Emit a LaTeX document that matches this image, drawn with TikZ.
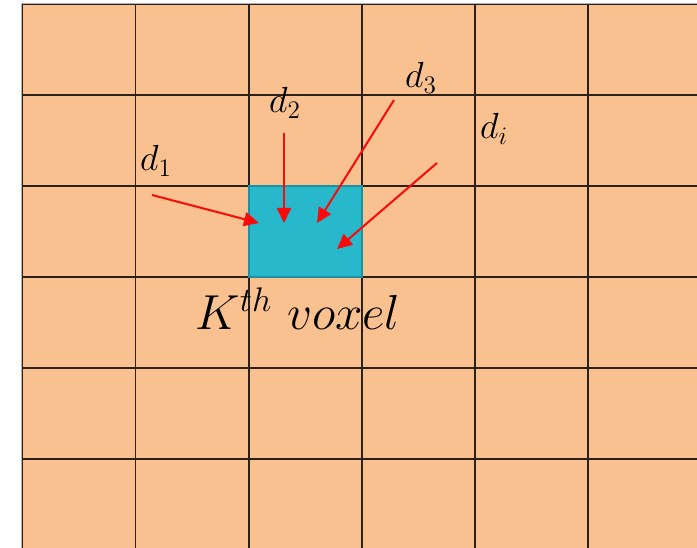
\documentclass[tikz,border=0pt]{standalone}
\usepackage{graphicx}
\usetikzlibrary{arrows.meta}
\definecolor{cellfill}{RGB}{249,192,144}
\definecolor{gridline}{RGB}{45,32,24}
\definecolor{voxfill}{RGB}{40,184,204}
\definecolor{voxedge}{RGB}{30,145,160}
\definecolor{arrowred}{RGB}{250,10,10}
\newcommand{\dtext}[1]{\scalebox{1.75}{\huge$#1$}}
\tikzset{
  ray/.style={draw=arrowred, line width=2pt, -{Triangle[length=15pt,width=14pt]}},
  dlabel/.style={inner sep=0pt},
  voxbox/.style={draw=voxedge, fill=voxfill, line width=2pt, minimum width=113pt, minimum height=91pt, inner sep=0pt},
}
\begin{document}
\begin{tikzpicture}[x=1pt,y=-1pt]
\useasboundingbox (0,0) rectangle (697,548);
\fill[white] (0,0) rectangle (697,548);
\begin{scope}
\clip (0,0) rectangle (697,548);
\fill[cellfill] (22,4) rectangle (720,570);
\foreach \x in {22,135.5,249,362,475,588}
  \draw[gridline, line width=1.2pt] (\x,4) -- (\x,570);
\foreach \y in {4,95,186,277,368,459}
  \draw[gridline, line width=1.2pt] (22,\y) -- (720,\y);
\draw[gray!60, line width=0.8pt] (21,570) -- (21,3) -- (720,3);
\end{scope}
\node[voxbox] (kvox) at (305,231.5) {};
\node[dlabel] (d1) at (156,161) {\dtext{d_1}};
\node[dlabel] (d2) at (285,103) {\dtext{d_2}};
\node[dlabel] (d3) at (421,78) {\dtext{d_3}};
\node[dlabel] (di) at (494,129) {\dtext{d_i}};
\node[inner sep=0pt] (klabel) at (298,309) {\scalebox{2.37}{\huge$K^{th}\ voxel$}};
\coordinate (s1) at (152,195);
\coordinate (t1) at (259,223);
\coordinate (s2) at (284,133);
\coordinate (t2) at (284,223);
\coordinate (s3) at (394,100);
\coordinate (t3) at (317,223);
\coordinate (si) at (437,163);
\coordinate (ti) at (337,249);
\draw[ray] (s1) -- (t1);
\draw[ray] (s2) -- (t2);
\draw[ray] (s3) -- (t3);
\draw[ray] (si) -- (ti);
\end{tikzpicture}
\end{document}
